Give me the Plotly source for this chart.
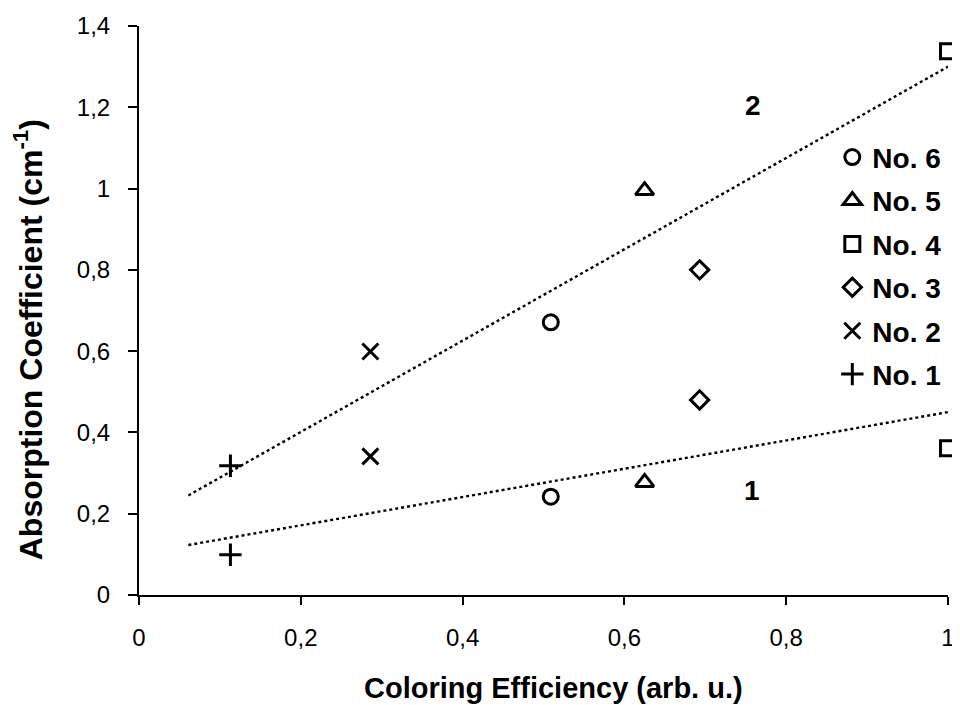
import plotly.graph_objects as go

# ---- data ----
series_names = ["No. 6", "No. 5", "No. 4", "No. 3", "No. 2", "No. 1"]
series_x = [0.509, 0.625, 1.0, 0.693, 0.286, 0.113]
series_y_high = [0.671, 0.995, 1.338, 0.800, 0.599, 0.318]
series_y_low = [0.242, 0.277, 0.361, 0.480, 0.341, 0.099]
symbols = ["circle-open", "triangle-up-open", "square-open", "diamond-open", "x-thin-open", "cross-thin-open"]
marker_sizes = [15, 16, 15, 14, 16, 16]

trend2_x = [0.061, 1.0]
trend2_y = [0.245, 1.300]
trend1_x = [0.061, 1.0]
trend1_y = [0.123, 0.450]

tick_vals_x = [0, 0.2, 0.4, 0.6, 0.8, 1.0]
tick_text_x = ["0", "0,2", "0,4", "0,6", "0,8", "1"]
tick_vals_y = [0, 0.2, 0.4, 0.6, 0.8, 1.0, 1.2, 1.4]
tick_text_y = ["0", "0,2", "0,4", "0,6", "0,8", "1", "1,2", "1,4"]

FONT = "Liberation Sans, Arial, sans-serif"

fig = go.Figure()

fig.add_trace(go.Scatter(x=trend2_x, y=trend2_y, mode="lines",
                         line=dict(color="black", width=2.4, dash="dot"),
                         showlegend=False, hoverinfo="skip"))
fig.add_trace(go.Scatter(x=trend1_x, y=trend1_y, mode="lines",
                         line=dict(color="black", width=2.4, dash="dot"),
                         showlegend=False, hoverinfo="skip"))

for i, name in enumerate(series_names):
    fig.add_trace(go.Scatter(
        x=[series_x[i], series_x[i]],
        y=[series_y_high[i], series_y_low[i]],
        mode="markers", name="<b>" + name + "</b>",
        legendgroup=name,
        marker=dict(symbol=symbols[i], size=marker_sizes[i], color="black",
                    line=dict(color="black", width=3)),
        cliponaxis=False,
    ))

fig.add_annotation(x=0.759, y=1.204, text="<b>2</b>", showarrow=False,
                   font=dict(size=28, color="black", family=FONT))
fig.add_annotation(x=0.758, y=0.257, text="<b>1</b>", showarrow=False,
                   font=dict(size=28, color="black", family=FONT))

# axis titles
fig.add_annotation(xref="paper", yref="paper", x=0.512, y=-0.163,
                   text="<b>Coloring Efficiency (arb. u.)</b>", showarrow=False,
                   xanchor="center", yanchor="middle",
                   font=dict(size=29, color="black", family=FONT))
fig.add_annotation(xref="paper", yref="paper", x=-0.137, y=0.448,
                   text="<b>Absorption Coefficient (cm<sup>-1</sup>)</b>",
                   showarrow=False, textangle=-90,
                   xanchor="center", yanchor="middle",
                   font=dict(size=32, color="black", family=FONT))

fig.update_layout(
    width=960, height=705,
    margin=dict(l=131, r=20, t=18, b=118),
    paper_bgcolor="white", plot_bgcolor="white",
    font=dict(family=FONT, color="black", size=24),
    legend=dict(x=0.857, y=0.813, xanchor="left", yanchor="top",
                font=dict(size=28, family=FONT, color="black"),
                tracegroupgap=4, bgcolor="rgba(0,0,0,0)",
                itemwidth=30),
    xaxis=dict(range=[0, 1.0], tickvals=tick_vals_x, ticktext=tick_text_x,
               showgrid=False, zeroline=False, showline=True,
               linecolor="black", linewidth=2, ticks="outside",
               ticklen=8, tickwidth=1.5, tickcolor="black",
               ticklabelstandoff=12, automargin=False,
               tickfont=dict(size=24, family=FONT)),
    yaxis=dict(range=[0, 1.4], tickvals=tick_vals_y, ticktext=tick_text_y,
               showgrid=False, zeroline=False, showline=True,
               linecolor="black", linewidth=2, ticks="outside",
               ticklen=9, tickwidth=1.5, tickcolor="black",
               ticklabelstandoff=13, automargin=False,
               tickfont=dict(size=24, family=FONT)),
)

fig.write_html("out.html")
